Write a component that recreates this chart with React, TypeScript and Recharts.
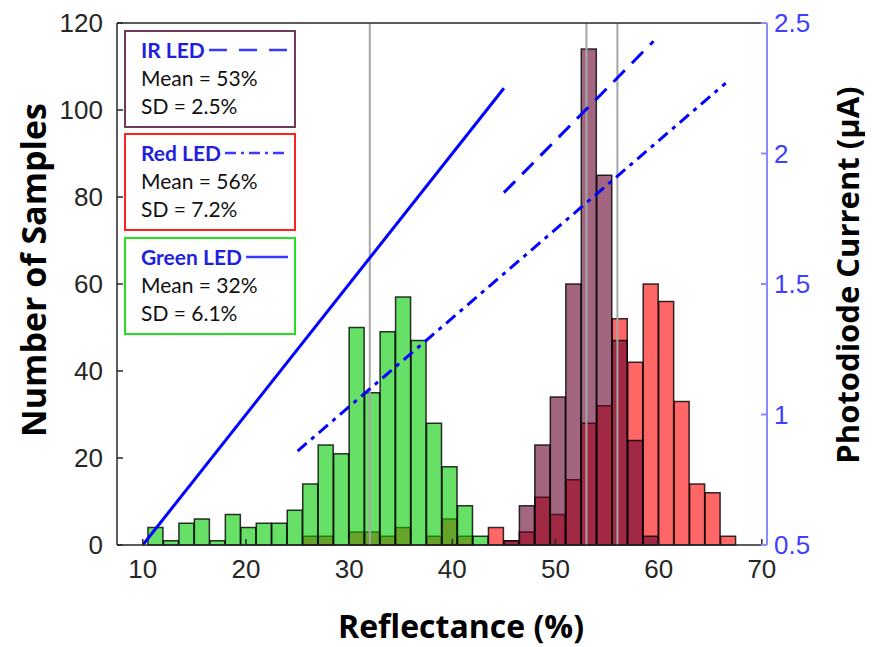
import React from 'react';
import {
  ComposedChart,
  Bar,
  Line,
  XAxis,
  YAxis,
  ReferenceLine,
} from 'recharts';

// histogram bins, 1.5 % wide, edges 7.5 ... 70.5
const binCenters = [
  8.25, 9.75, 11.25, 12.75, 14.25, 15.75, 17.25, 18.75, 20.25, 21.75,
  23.25, 24.75, 26.25, 27.75, 29.25, 30.75, 32.25, 33.75, 35.25, 36.75,
  38.25, 39.75, 41.25, 42.75, 44.25, 45.75, 47.25, 48.75, 50.25, 51.75,
  53.25, 54.75, 56.25, 57.75, 59.25, 60.75, 62.25, 63.75, 65.25, 66.75,
  68.25, 69.75,
];

const greenCounts = [
  0, 0, 4, 1, 5, 6, 1, 7, 4, 5,
  5, 8, 14, 23, 21, 50, 35, 49, 57, 47,
  28, 18, 9, 2, 0, 0, 0, 0, 0, 0,
  0, 0, 0, 0, 0, 0, 0, 0, 0, 0,
  0, 0,
];

const redCounts = [
  0, 0, 0, 0, 0, 0, 0, 0, 0, 0,
  0, 0, 2, 2, 0, 3, 3, 2, 4, 0,
  2, 6, 2, 0, 4, 1, 3, 11, 7, 15,
  28, 32, 52, 42, 60, 56, 33, 14, 12, 2,
  0, 0,
];

const irCounts = [
  0, 0, 0, 0, 0, 0, 0, 0, 0, 0,
  0, 0, 0, 0, 0, 0, 0, 0, 0, 0,
  0, 0, 0, 0, 0, 1, 9, 23, 34, 60,
  114, 85, 47, 24, 2, 0, 0, 0, 0, 0,
  0, 0,
];

// photodiode current vs reflectance (right axis)
const greenCurrent = [
  { x: 10, y: 0.5 },
  { x: 45, y: 2.25 },
];
const irCurrent = [
  { x: 45, y: 1.85 },
  { x: 59.5, y: 2.43 },
];
const redCurrent = [
  { x: 25, y: 0.86 },
  { x: 66.5, y: 2.27 },
];

const meanLines = [32, 53, 56];

const xTicks = [10, 20, 30, 40, 50, 60, 70];
const leftTicks = [0, 20, 40, 60, 80, 100, 120];
const rightTicks = [0.5, 1, 1.5, 2, 2.5];

const legendItems = [
  { name: 'IR LED', mean: 'Mean = 53%', sd: 'SD = 2.5%', border: '#6e3a5a', dash: '18 12', lineW: 80 },
  { name: 'Red LED', mean: 'Mean = 56%', sd: 'SD = 7.2%', border: '#ff2020', dash: '11 5 3 5', lineW: 62 },
  { name: 'Green LED', mean: 'Mean = 32%', sd: 'SD = 6.1%', border: '#22e022', dash: '', lineW: 42 },
];

const histData = binCenters.map((bin, i) => ({
  bin,
  green: greenCounts[i],
  red: redCounts[i],
  ir: irCounts[i],
}));

const TITLE_FONT = "'Open Sans', sans-serif";
const TICK_FONT = "'Liberation Sans', Arial, sans-serif";
const LEGEND_FONT = "Lato, 'Open Sans', sans-serif";
const BLUE = '#0000ff';

const axisDark = { stroke: '#262626', strokeWidth: 1.5 };
const axisBlue = { stroke: '#8a8aff', strokeWidth: 2 };

function LeftTitle({ viewBox }: any) {
  const cx = viewBox.x + 25;
  const cy = viewBox.y + viewBox.height / 2 - 14;
  return (
    <text
      x={cx}
      y={cy}
      transform={`rotate(-90 ${cx} ${cy})`}
      textAnchor="middle"
      dominantBaseline="central"
      fontFamily={TITLE_FONT}
      fontWeight={700}
      fontSize={34}
      fill="#000"
    >
      Number of Samples
    </text>
  );
}

function RightTitle({ viewBox }: any) {
  const cx = viewBox.x + 80;
  const cy = viewBox.y + viewBox.height / 2 - 9;
  return (
    <text
      x={cx}
      y={cy}
      transform={`rotate(-90 ${cx} ${cy})`}
      textAnchor="middle"
      dominantBaseline="central"
      fontFamily={TITLE_FONT}
      fontWeight={700}
      fontSize={31}
      fill="#000"
    >
      Photodiode Current (μA)
    </text>
  );
}

function BottomTitle({ viewBox }: any) {
  return (
    <text
      x={viewBox.x + 344}
      y={viewBox.y + 80}
      textAnchor="middle"
      dominantBaseline="central"
      fontFamily={TITLE_FONT}
      fontWeight={700}
      fontSize={32}
      fill="#000"
    >
      Reflectance (%)
    </text>
  );
}

function LegendBox({ item, top }: { item: (typeof legendItems)[number]; top: number }) {
  return (
    <div
      style={{
        position: 'absolute',
        left: 116,
        top,
        width: 172,
        height: 98,
        boxSizing: 'border-box',
        border: `2px solid ${item.border}`,
        background: '#fff',
        padding: '4px 0 0 15px',
        fontFamily: LEGEND_FONT,
        fontSize: 21,
        lineHeight: '28px',
        color: '#111',
      }}
    >
      <div style={{ display: 'flex', alignItems: 'center' }}>
        <span style={{ color: '#1f1fe0', fontWeight: 700 }}>{item.name}</span>
        <svg width={item.lineW} height={6} style={{ marginLeft: 4 }}>
          <line
            x1={0}
            y1={3}
            x2={item.lineW}
            y2={3}
            stroke="#3a3aff"
            strokeWidth={2.5}
            strokeDasharray={item.dash || undefined}
          />
        </svg>
      </div>
      <div>{item.mean}</div>
      <div>{item.sd}</div>
    </div>
  );
}

export default function App() {
  const barEdge = { stroke: '#000', strokeOpacity: 0.8, strokeWidth: 1.5 };
  return (
    <div style={{ position: 'relative', width: 865, height: 639 }}>
      <ComposedChart
        width={865}
        height={639}
        data={histData}
        margin={{ top: 14, right: 0, bottom: 0, left: 0 }}
        barCategoryGap={0}
        barGap={0}
      >
        <XAxis
          xAxisId="num"
          dataKey="x"
          type="number"
          domain={[7.5, 70.5]}
          allowDataOverflow
          ticks={xTicks}
          interval={0}
          height={102}
          tickSize={-6}
          tickMargin={21}
          axisLine={axisDark}
          tickLine={axisDark}
          tick={{ fill: '#262626', fontSize: 26, fontFamily: TICK_FONT }}
          label={<BottomTitle />}
        />
        <XAxis xAxisId="binR" dataKey="bin" type="category" height={0} hide />
        <XAxis xAxisId="binG" dataKey="bin" type="category" height={0} hide />
        <XAxis xAxisId="binIR" dataKey="bin" type="category" height={0} hide />
        <XAxis
          xAxisId="top"
          orientation="top"
          type="number"
          domain={[7.5, 70.5]}
          allowDataOverflow
          ticks={xTicks}
          interval={0}
          height={1}
          tickSize={-6}
          tick={false}
          axisLine={axisDark}
          tickLine={axisDark}
        />
        <YAxis
          yAxisId="left"
          domain={[0, 120]}
          ticks={leftTicks}
          interval={0}
          width={109}
          tickSize={-6}
          tickMargin={20}
          axisLine={axisDark}
          tickLine={axisDark}
          tick={{ fill: '#262626', fontSize: 26, fontFamily: TICK_FONT }}
          label={<LeftTitle />}
        />
        <YAxis
          yAxisId="right"
          orientation="right"
          domain={[0.5, 2.5]}
          ticks={rightTicks}
          interval={0}
          width={106}
          tickSize={-6}
          tickMargin={13}
          axisLine={axisBlue}
          tickLine={axisBlue}
          tick={{ fill: '#4040ff', fontSize: 26, fontFamily: TICK_FONT }}
          label={<RightTitle />}
        />

        {meanLines.map((m) => (
          <ReferenceLine
            key={m}
            x={m}
            xAxisId="num"
            yAxisId="left"
            stroke="#a6a6a6"
            strokeWidth={2}
          />
        ))}

        <Bar xAxisId="binR" yAxisId="left" dataKey="red" fill="#ff0000" fillOpacity={0.6} {...barEdge} isAnimationActive={false} />
        <Bar xAxisId="binG" yAxisId="left" dataKey="green" fill="#00cc00" fillOpacity={0.6} {...barEdge} isAnimationActive={false} />
        <Bar xAxisId="binIR" yAxisId="left" dataKey="ir" fill="#64002b" fillOpacity={0.6} {...barEdge} isAnimationActive={false} />

        <Line
          data={greenCurrent}
          xAxisId="num"
          yAxisId="right"
          dataKey="y"
          type="linear"
          stroke={BLUE}
          strokeWidth={3}
          dot={false}
          isAnimationActive={false}
        />
        <Line
          data={irCurrent}
          xAxisId="num"
          yAxisId="right"
          dataKey="y"
          type="linear"
          stroke={BLUE}
          strokeWidth={3}
          strokeDasharray="16 10"
          dot={false}
          isAnimationActive={false}
        />
        <Line
          data={redCurrent}
          xAxisId="num"
          yAxisId="right"
          dataKey="y"
          type="linear"
          stroke={BLUE}
          strokeWidth={3}
          strokeDasharray="12 6 4 6"
          dot={false}
          isAnimationActive={false}
        />
      </ComposedChart>

      {legendItems.map((item, i) => (
        <LegendBox key={item.name} item={item} top={[22, 125, 229][i]} />
      ))}
    </div>
  );
}
